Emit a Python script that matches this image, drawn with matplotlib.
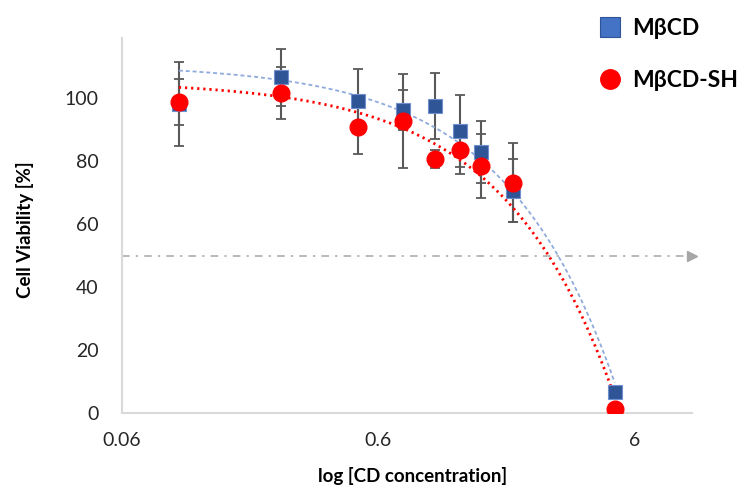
import matplotlib
matplotlib.use('Agg')
import matplotlib.pyplot as plt
from matplotlib.lines import Line2D
import numpy as np

plt.rcParams['font.family'] = ['Lato', 'DejaVu Sans']

# concentrations (log axis) and viability
conc = [0.1, 0.25, 0.5, 0.75, 1.0, 1.25, 1.5, 2.0, 5.0]
mbcd = [98.0, 106.6, 99.0, 96.2, 97.5, 89.6, 82.9, 70.6, 6.6]
mbcd_err = [13.3, 9.0, 10.1, 6.5, 10.4, 11.4, 9.8, 10.0, 1.0]
mbcd_sh = [98.7, 101.6, 90.8, 92.7, 80.7, 83.5, 78.5, 73.1, 1.3]
mbcd_sh_err = [7.3, 8.4, 8.5, 15.0, 2.8, 7.6, 10.1, 12.5, 0.5]

x_ticks = [0.06, 0.6, 6]
x_ticklabels = ['0.06', '0.6', '6']
y_ticks = [0, 20, 40, 60, 80, 100]
threshold = 50

fig = plt.figure(figsize=(7.46, 4.88), dpi=100)
ax = fig.add_axes([0.1635, 0.1537, 0.764, 0.768])

ax.set_xscale('log')
ax.set_xlim(0.06, 10)
ax.set_ylim(0, 119)

# 50% line with arrow head
ax.plot([0.06, 10], [threshold, threshold], color='#A6A6A6', lw=1.1,
        linestyle=(0, (5, 4, 1.5, 4)), zorder=1)
ax.plot([10], [threshold], marker='>', color='#A6A6A6', ms=7, clip_on=False, zorder=1)

# error bars
ax.errorbar(conc, mbcd, yerr=mbcd_err, fmt='none', ecolor='#595959', elinewidth=1.5,
            capsize=3.6, capthick=1.3, zorder=2)
ax.errorbar(conc, mbcd_sh, yerr=mbcd_sh_err, fmt='none', ecolor='#595959', elinewidth=1.5,
            capsize=3.6, capthick=1.3, zorder=2)

# linear trendlines
xs = np.linspace(min(conc), max(conc), 300)
pb = np.polyfit(conc, mbcd, 1)
pr = np.polyfit(conc, mbcd_sh, 1)
ax.plot(xs, np.polyval(pb, xs), color='#8FAADC', lw=1.3, linestyle=(0, (2.2, 1.6)), zorder=3)
ax.plot(xs, np.polyval(pr, xs), color='#FF0000', lw=2.0, linestyle=(0, (0.8, 1.4)), zorder=3)

# markers
ax.plot(conc, mbcd, 's', color='#2F5597', mec='#6F8FCF', mew=0.8, ms=10.5, zorder=4)
ax.plot(conc, mbcd_sh, 'o', color='#FF0000', mec='#FF0000', ms=12, zorder=5)

ax.set_xticks(x_ticks)
ax.set_xticklabels(x_ticklabels)
ax.xaxis.set_minor_locator(matplotlib.ticker.NullLocator())
ax.set_yticks(y_ticks)
ax.tick_params(axis='both', length=0, labelsize=14, colors='#262626')
ax.tick_params(axis='y', pad=17)
ax.tick_params(axis='x', pad=14)

for s in ['top', 'right']:
    ax.spines[s].set_visible(False)
for s in ['left', 'bottom']:
    ax.spines[s].set_color('#D9D9D9')
    ax.spines[s].set_linewidth(1.5)

ax.set_xlabel('log [CD concentration]', fontsize=13.5, fontweight='bold')
ax.set_ylabel('Cell Viability [%]', fontsize=13.5, fontweight='bold')
ax.xaxis.set_label_coords(0.51, -0.145)
ax.yaxis.set_label_coords(-0.155, 0.49)

handles = [
    Line2D([], [], marker='s', color='#4472C4', mec='#2F5597', mew=0.8, ms=14, ls='none'),
    Line2D([], [], marker='o', color='#FF0000', ms=14, ls='none'),
]
fig.legend(handles, ['M\u03b2CD', 'M\u03b2CD-SH'], loc='upper left',
           bbox_to_anchor=(0.775, 1.005), frameon=False, handlelength=1.0,
           handletextpad=0.45, labelspacing=1.35,
           prop={'weight': 'bold', 'size': 16.5})

fig.savefig('out.png', dpi=100)
